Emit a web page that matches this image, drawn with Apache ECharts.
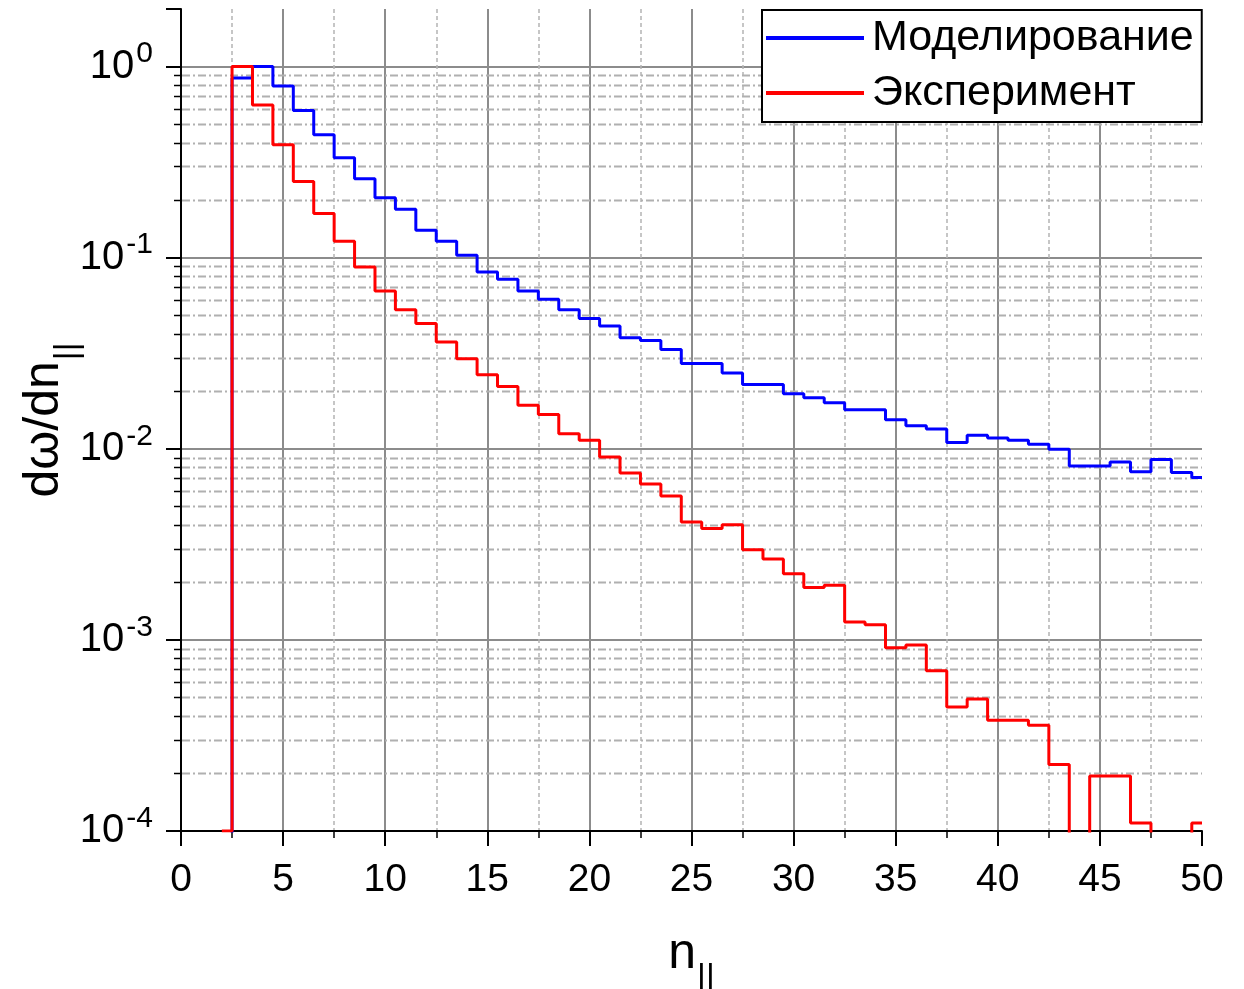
<!DOCTYPE html>
<html>
<head>
<meta charset="utf-8">
<script src="https://cdn.jsdelivr.net/npm/echarts@6/dist/echarts.min.js"></script>
<style>
  html, body { margin: 0; padding: 0; background: #fff; }
  #chart { width: 1244px; height: 989px; }
</style>
</head>
<body>
<div id="chart"></div>
<script>
// Bin centres of the n_parallel histogram (bin width 1)
const nPar = [2, 3, 4, 5, 6, 7, 8, 9, 10, 11, 12, 13, 14, 15, 16, 17, 18, 19, 20,
  21, 22, 23, 24, 25, 26, 27, 28, 29, 30, 31, 32, 33, 34, 35, 36, 37, 38, 39, 40,
  41, 42, 43, 44, 45, 46, 47, 48, 49, 50];

// Normalised spectrum dω/dn_parallel, simulation (0 = empty bin)
const modelling = [0, 0.87, 1.0, 0.79, 0.589, 0.44, 0.333, 0.259, 0.206, 0.179,
  0.139, 0.122, 0.103, 0.084, 0.077, 0.067, 0.0605, 0.0534, 0.048, 0.0439,
  0.0381, 0.0369, 0.0331, 0.0279, 0.0279, 0.0249, 0.0217, 0.0217, 0.0194, 0.0185,
  0.0174, 0.0160, 0.0160, 0.0142, 0.0132, 0.0127, 0.01077, 0.01177, 0.0114, 0.01107,
  0.01056, 0.00994, 0.00813, 0.00813, 0.00853, 0.00757, 0.00878, 0.00751, 0.00707];

// Normalised spectrum dω/dn_parallel, measurement (0 = empty bin)
const experiment = [0.0001, 1.0, 0.63, 0.39, 0.25, 0.17, 0.122, 0.0893, 0.067, 0.0534,
  0.0452, 0.0362, 0.0296, 0.0244, 0.0212, 0.0169, 0.0151, 0.0120, 0.01107, 0.00906,
  0.00747, 0.00655, 0.00566, 0.00414, 0.00383, 0.0040, 0.00296, 0.00265, 0.00222, 0.00188,
  0.00193, 0.00124, 0.0012, 0.00091, 0.00094, 0.00069, 0.000446, 0.00049, 0.00038, 0.00038,
  0.000358, 0.000223, 0, 0.000194, 0.000194, 0.00011, 0, 0, 0.00011];

const seriesNames = ['Моделирование', 'Эксперимент'];
const seriesColors = ['#0000ff', '#ff0000'];

// Axis ranges and tick layout
const xRange = [0, 50];
const xStep = 5;
const yRange = [1e-4, 2];
const yDecades = [-4, -3, -2, -1];
const yMinorFactors = [2, 3, 4, 5, 6, 7, 8, 9];

const FONT = '"Liberation Sans", Arial, sans-serif';
// Empty bins sit below the visible log range and get clipped away
const EMPTY_LEVEL = 1e-7;

function toPairs(values) {
  return nPar.map((n, i) => [n, values[i] > 0 ? values[i] : EMPTY_LEVEL]);
}

function powLabel(v) {
  const e = Math.log10(v);
  const r = Math.round(e);
  if (Math.abs(e - r) > 1e-6) return '';
  return '{b|10}{s|' + r + '}';
}

const nameRich = {
  t: { fontSize: 50, lineHeight: 54, verticalAlign: 'top', color: '#000', fontFamily: FONT },
  s: { fontSize: 34, lineHeight: 34, padding: [32, 0, 0, 1], verticalAlign: 'top', color: '#000', fontFamily: FONT }
};

const chart = echarts.init(document.getElementById('chart'), null, { renderer: 'canvas' });

chart.setOption({
  animation: false,
  backgroundColor: '#fff',
  textStyle: { fontFamily: FONT },
  grid: { left: 181, right: 42, top: 9, bottom: 158, containLabel: false, outerBoundsMode: 'none' },
  legend: {
    left: 762, top: 10, orient: 'vertical',
    icon: 'rect', itemWidth: 98, itemHeight: 4, itemGap: 11,
    padding: [6, 8, 7, 4],
    borderColor: '#000', borderWidth: 2, backgroundColor: '#fff',
    textStyle: { fontSize: 43, lineHeight: 44, color: '#000', fontFamily: FONT, padding: [0, 0, 0, 3] },
    data: seriesNames
  },
  xAxis: {
    type: 'value', min: xRange[0], max: xRange[1], interval: xStep,
    axisLine: { onZero: false, lineStyle: { color: '#000', width: 2 } },
    axisTick: { length: 15, lineStyle: { color: '#000', width: 2 } },
    minorTick: { show: true, splitNumber: 2, length: 7, lineStyle: { color: '#000', width: 1.5 } },
    splitLine: { show: true, showMinLine: false, showMaxLine: false, lineStyle: { color: '#8c8c8c', width: 2 } },
    minorSplitLine: { show: true, lineStyle: { color: '#b4b4b4', width: 1.5, type: [4, 3] } },
    axisLabel: { fontSize: 39, color: '#000', margin: 30, fontFamily: FONT },
    name: '{t|n}{s|||}',
    nameLocation: 'middle', nameGap: 98, nameMoveOverlap: false,
    nameTextStyle: { rich: nameRich }
  },
  yAxis: {
    type: 'log', logBase: 10, min: yRange[0], max: yRange[1],
    axisLine: { show: true, onZero: false, lineStyle: { color: '#000', width: 2 } },
    axisTick: { show: true, length: 15, lineStyle: { color: '#000', width: 2 } },
    splitLine: { show: true, showMinLine: false, showMaxLine: false, lineStyle: { color: '#8c8c8c', width: 2 } },
    axisLabel: {
      formatter: powLabel, margin: 28,
      rich: {
        b: { fontSize: 40, lineHeight: 40, color: '#000', fontFamily: FONT },
        s: { fontSize: 30, lineHeight: 30, padding: [0, 0, 25, 2], color: '#000', fontFamily: FONT }
      }
    },
    name: '{t|dω/dn}{s|||}',
    nameLocation: 'middle', nameGap: 108, nameRotate: 90, nameMoveOverlap: false,
    nameTextStyle: { rich: nameRich }
  },
  series: [
    {
      name: seriesNames[0], type: 'line', step: 'middle', symbol: 'none', clip: true,
      data: toPairs(modelling), z: 3,
      lineStyle: { color: seriesColors[0], width: 3 }, itemStyle: { color: seriesColors[0] }
    },
    {
      name: seriesNames[1], type: 'line', step: 'middle', symbol: 'none', clip: true,
      data: toPairs(experiment), z: 4,
      lineStyle: { color: seriesColors[1], width: 3 }, itemStyle: { color: seriesColors[1] }
    }
  ]
});

// Logarithmic minor grid lines and minor ticks (2..9 × each decade)
const xLeft = chart.convertToPixel({ xAxisIndex: 0 }, xRange[0]);
const xRight = chart.convertToPixel({ xAxisIndex: 0 }, xRange[1]);
const minorEls = [];
yDecades.forEach(d => {
  yMinorFactors.forEach(k => {
    const y = Math.round(chart.convertToPixel({ yAxisIndex: 0 }, k * Math.pow(10, d))) + 0.5;
    minorEls.push({
      type: 'line', silent: true, z: 1,
      shape: { x1: xLeft + 1, y1: y, x2: xRight, y2: y },
      style: { stroke: '#b0b0b0', lineWidth: 2, lineDash: [8, 3, 2, 3] }
    });
    minorEls.push({
      type: 'line', silent: true, z: 1,
      shape: { x1: xLeft - 7, y1: y, x2: xLeft, y2: y },
      style: { stroke: '#000', lineWidth: 1.5 }
    });
  });
});
chart.setOption({ graphic: { elements: minorEls } });
</script>
</body>
</html>
